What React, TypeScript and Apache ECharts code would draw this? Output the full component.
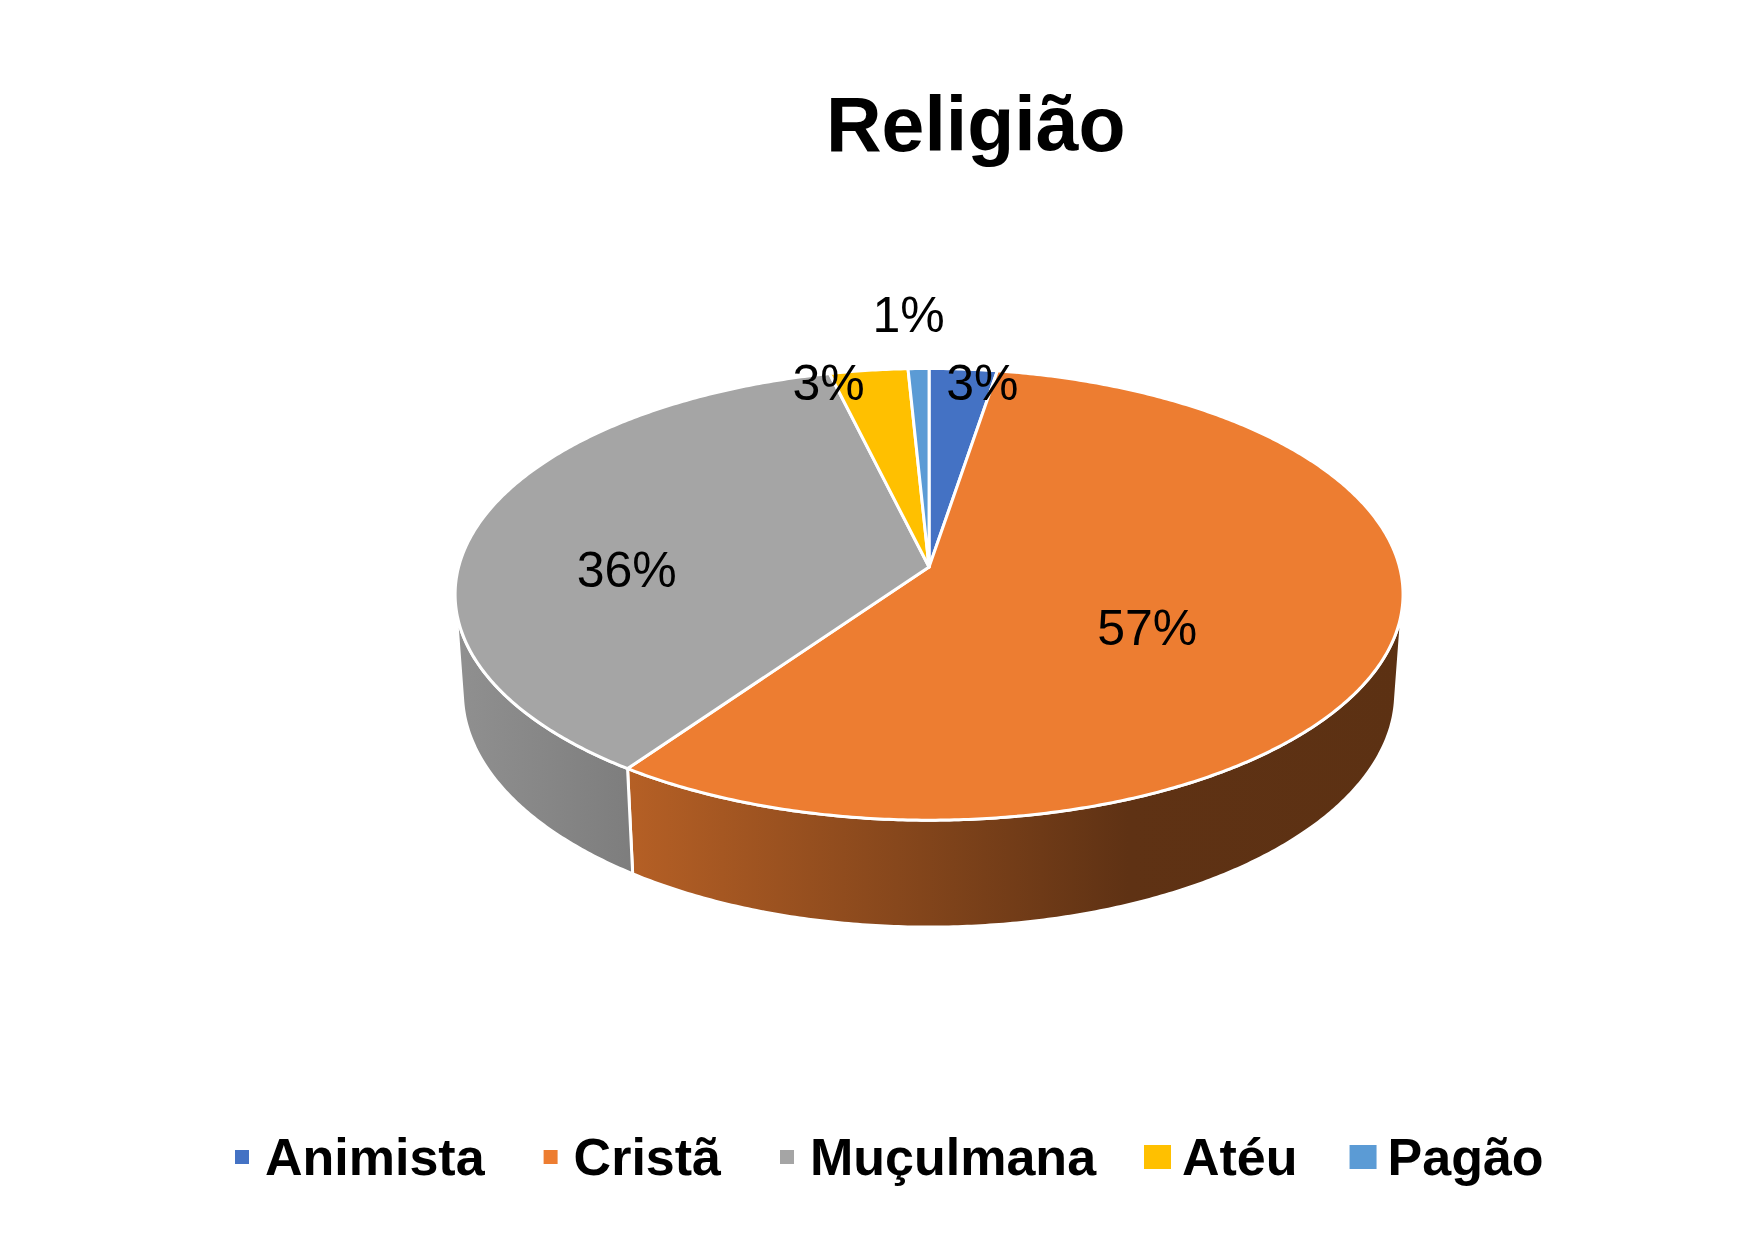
import React, { useEffect, useRef } from 'react';
import * as echarts from 'echarts';

const TITLE = 'Religião';
const CATEGORIES = ['Animista', 'Cristã', 'Muçulmana', 'Atéu', 'Pagão'];
const VALUES = [2.6, 57.2, 36.4, 3.0, 0.8];
const COLORS = ['#4472C4', '#ED7D31', '#A5A5A5', '#FFC000', '#5B9BD5'];

const WIDTH = 1749;
const HEIGHT = 1241;
const FONT = '"Liberation Sans", Arial, Helvetica, sans-serif';

// 3D perspective view of the pie (fractions of the chart size / camera distance)
const CENTER_X = 0.5312;
const CENTER_Y = 0.4569;
const SCREEN_RADIUS = 0.269;
const RHO = 0.1373; // pie radius / camera distance
const ELEV = Math.asin(0.473); // camera elevation
const THICK = 0.033; // pie thickness / camera distance

// side wall lighting (offset across pie width, brightness factor)
const SIDE_SHADE: [number, number][] = [
  [0, 0.87],
  [0.19, 0.76],
  [0.71, 0.4],
  [1, 0.39],
];

// label placement relative to each slice (radius fraction, pixel nudge)
const LABEL_LAYOUT = [
  { r: 1, dx: 19, dy: 14 },
  { r: 0.49, dx: 0, dy: 19 },
  { r: 0.664, dx: 0, dy: 30 },
  { r: 1, dx: -40, dy: 13 },
  { r: 1, dx: -10, dy: -54 },
];

function shade(hex: string, k: number): string {
  const n = parseInt(hex.slice(1), 16);
  const r = Math.round(((n >> 16) & 255) * k);
  const g = Math.round(((n >> 8) & 255) * k);
  const b = Math.round((n & 255) * k);
  return `rgb(${r},${g},${b})`;
}

function makeRenderItem(i: number) {
  return (params: any, api: any) => {
    const W = api.getWidth();
    const H = api.getHeight();
    const cx = W * CENTER_X;
    const cy = H * CENTER_Y;
    const S = W * SCREEN_RADIUS;
    const s = Math.sin(ELEV);
    const c = Math.cos(ELEV);
    const f = S / RHO;
    const proj = (th: number, r: number, lvl: number) => {
      const X = RHO * r * Math.sin(th);
      const Z = RHO * r * Math.cos(th);
      const Y = -THICK * lvl;
      const v = Z * s + Y * c;
      const d = 1 + Z * c - Y * s;
      return [cx + (f * X) / d, cy - (f * v) / d];
    };
    const arc = (from: number, to: number, r: number, lvl: number) => {
      const n = Math.max(2, Math.ceil(Math.abs(to - from) / (Math.PI / 360)));
      const pts: number[][] = [];
      for (let k = 0; k <= n; k++) {
        pts.push(proj(from + ((to - from) * k) / n, r, lvl));
      }
      return pts;
    };
    const total = VALUES.reduce((a, b) => a + b, 0);
    const before = VALUES.slice(0, i).reduce((a, b) => a + b, 0);
    const val = api.value(0);
    const a0 = (before / total) * 2 * Math.PI;
    const a1 = ((before + val) / total) * 2 * Math.PI;

    const children: any[] = [];
    const ts = Math.acos(-RHO / c);
    const te = 2 * Math.PI - ts;
    const w0 = Math.max(a0, ts);
    const w1 = Math.min(a1, te);
    if (w1 > w0) {
      const pts = arc(w0, w1, 1, 0).concat(arc(w1, w0, 1, 1));
      const xL = cx - S * 1.008;
      const xR = cx + S * 1.008;
      children.push({
        type: 'polygon',
        z2: 1,
        shape: { points: pts },
        style: {
          fill: {
            type: 'linear',
            x: xL,
            y: 0,
            x2: xR,
            y2: 0,
            global: true,
            colorStops: SIDE_SHADE.map(([o, k]) => ({ offset: o, color: shade(COLORS[i], k) })),
          },
          stroke: '#ffffff',
          lineWidth: 3,
          lineJoin: 'round',
        },
      });
    }
    const top = [[cx, cy]].concat(arc(a0, a1, 1, 0));
    children.push({
      type: 'polygon',
      z2: 5,
      shape: { points: top },
      style: { fill: COLORS[i], stroke: '#ffffff', lineWidth: 3, lineJoin: 'round' },
    });
    const L = LABEL_LAYOUT[i];
    const p = proj((a0 + a1) / 2, L.r, 0);
    children.push({
      type: 'text',
      z2: 10,
      x: p[0] + L.dx,
      y: p[1] + L.dy,
      style: {
        text: Math.round((val / total) * 100) + '%',
        fill: '#000000',
        fontSize: 50,
        fontFamily: FONT,
        align: 'center',
        verticalAlign: 'middle',
      },
    });
    return { type: 'group', children };
  };
}

export default function App() {
  const ref = useRef<HTMLDivElement>(null);
  useEffect(() => {
    if (!ref.current) return;
    const chart = echarts.init(ref.current, null, { renderer: 'svg' });
    const legendText = {
      fontSize: 52,
      fontWeight: 'bold',
      fontFamily: FONT,
      color: '#000000',
      lineHeight: 60,
    };
    chart.setOption({
      animation: false,
      backgroundColor: '#ffffff',
      color: COLORS,
      title: {
        text: TITLE,
        left: 826,
        top: 84,
        padding: 0,
        textStyle: {
          fontSize: 77,
          fontWeight: 'bold',
          fontFamily: FONT,
          color: '#000000',
          lineHeight: 80,
        },
      },
      legend: [
        {
          data: CATEGORIES.slice(0, 3),
          left: 235,
          top: 1127,
          padding: 0,
          icon: 'rect',
          itemWidth: 14,
          itemHeight: 14,
          itemGap: 59,
          textStyle: { ...legendText, padding: [0, 0, 0, 11] },
        },
        {
          data: CATEGORIES.slice(3),
          left: 1144,
          top: 1127,
          padding: 0,
          icon: 'rect',
          itemWidth: 27,
          itemHeight: 24,
          itemGap: 52,
          textStyle: { ...legendText, padding: [0, 0, 0, 6] },
        },
      ],
      series: CATEGORIES.map((name, i) => ({
        type: 'custom',
        name,
        coordinateSystem: 'none',
        data: [[VALUES[i]]],
        itemStyle: { color: COLORS[i] },
        renderItem: makeRenderItem(i),
      })),
    });
    return () => chart.dispose();
  }, []);
  return (
    <div
      ref={ref}
      style={{ position: 'absolute', left: 0, top: 0, width: WIDTH, height: HEIGHT, background: '#fff' }}
    />
  );
}
